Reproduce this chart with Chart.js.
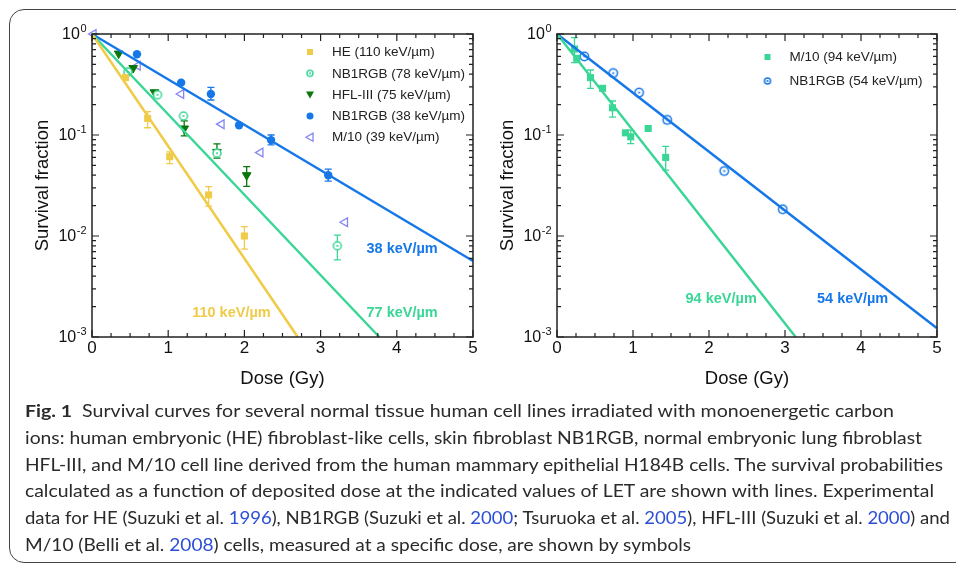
<!DOCTYPE html>
<html>
<head>
<meta charset="utf-8">
<script src="https://cdn.jsdelivr.net/npm/chart.js@4.4.1/dist/chart.umd.min.js"></script>
<style>
html, body { margin: 0; padding: 0; background: #fff; }
body { width: 956px; height: 565px; position: relative; overflow: hidden; }
#frame { position: absolute; left: 9px; top: 8.5px; width: 990px; height: 552px; border: 1.5px solid #444; border-radius: 15px; }
canvas { position: absolute; top: 0; }
#c1 { left: 0; }
#c2 { left: 480px; }
#caption { position: absolute; left: 25px; top: 398px; font-family: Lato, "Open Sans", sans-serif; font-size: 17px; line-height: 26.8px; color: #2a2a2a; }
.ln { white-space: nowrap; width: max-content; transform-origin: 0 0; }
.ref { color: #2c4fd6; }
</style>
</head>
<body>
<div id="frame"></div>
<canvas id="c1" width="480" height="400"></canvas>
<canvas id="c2" width="476" height="400"></canvas>
<div id="caption">
  <div class="ln" data-w="869"><b>Fig. 1</b>&nbsp; Survival curves for several normal tissue human cell lines irradiated with monoenergetic carbon</div>
  <div class="ln" data-w="897">ions: human embryonic (HE) fibroblast-like cells, skin fibroblast NB1RGB, normal embryonic lung fibroblast</div>
  <div class="ln" data-w="918">HFL-III, and M/10 cell line derived from the human mammary epithelial H184B cells. The survival probabilities</div>
  <div class="ln" data-w="909">calculated as a function of deposited dose at the indicated values of LET are shown with lines. Experimental</div>
  <div class="ln" data-w="925">data for HE (Suzuki et al. <span class="ref">1996</span>), NB1RGB (Suzuki et al. <span class="ref">2000</span>; Tsuruoka et al. <span class="ref">2005</span>), HFL-III (Suzuki et al. <span class="ref">2000</span>) and</div>
  <div class="ln" data-w="666">M/10 (Belli et al. <span class="ref">2008</span>) cells, measured at a specific dose, are shown by symbols</div>
</div>
<script>
// Survival curves for normal tissue cell lines - two log panels

// ---- data: left panel ----
const heDose = [0.44, 0.73, 1.02, 1.53, 2.0];
const heSurv = [0.37, 0.146, 0.061, 0.0255, 0.010];
const heLo   = [null, 0.118, 0.052, 0.0198, 0.0074];
const heHi   = [null, 0.170, 0.068, 0.0308, 0.0124];

const nb78Dose = [0.47, 0.86, 1.20, 1.64, 3.22];
const nb78Surv = [0.42, 0.25, 0.154, 0.066, 0.0080];
const nb78Lo   = [null, null, null, null, 0.0058];
const nb78Hi   = [null, null, null, null, 0.0102];

const hflDose = [0.35, 0.54, 0.82, 1.21, 1.64, 2.03];
const hflSurv = [0.64, 0.46, 0.265, 0.116, 0.068, 0.040];
const hflLo   = [null, null, null, 0.098, 0.059, 0.031];
const hflHi   = [null, null, null, 0.138, 0.0815, 0.0486];

const nb38Dose = [0.59, 1.17, 1.56, 1.93, 2.35, 3.10];
const nb38Surv = [0.63, 0.33, 0.255, 0.125, 0.089, 0.040];
const nb38Lo   = [null, null, 0.222, null, 0.080, 0.035];
const nb38Hi   = [null, null, 0.296, null, 0.100, 0.046];

const m10Dose = [0.02, 0.60, 1.17, 1.70, 2.21, 3.32];
const m10Surv = [1.0, 0.485, 0.255, 0.128, 0.067, 0.0137];

// fitted lines (dose, survival end points)
const fit38  = [[0, 1], [5, 0.00565]];
const fit77  = [[0, 1], [3.77, 0.001]];
const fit110 = [[0, 1], [2.70, 0.001]];

// ---- data: right panel ----
const m94Dose = [0.23, 0.26, 0.44, 0.60, 0.73, 0.90, 0.97, 1.20, 1.43];
const m94Surv = [0.71, 0.575, 0.37, 0.29, 0.186, 0.105, 0.096, 0.116, 0.060];
const m94Lo   = [0.52, null, 0.29, null, 0.15, null, 0.082, null, 0.045];
const m94Hi   = [0.92, null, 0.44, null, 0.217, null, 0.112, null, 0.077];

const nb54Dose = [0.36, 0.74, 1.08, 1.45, 2.20, 2.97];
const nb54Surv = [0.60, 0.41, 0.263, 0.141, 0.044, 0.0184];
const nb54Lo   = [0.56, 0.385, 0.245, 0.131, 0.041, 0.0172];
const nb54Hi   = [0.64, 0.435, 0.28, 0.151, 0.047, 0.0196];

const fit54 = [[0, 1], [5, 0.00122]];
const fit94 = [[0, 1], [3.14, 0.001]];

// ---- axes ----
const xTicks = [0, 1, 2, 3, 4, 5];
const yTicks = [1, 0.1, 0.01, 0.001];
const yTickExp = ['0', '-1', '-2', '-3'];

// colours
const YELLOW = '#f0cb48';
const CYAN = '#3ad696';
const GREEN = '#0a760a';
const BLUE = '#1677e8';
const VIOLET = '#8585f2';

const FONT = '"Liberation Sans", Arial, sans-serif';

function pts(xs, ys) {
    return xs.map((x, i) => ({ x: x, y: ys[i] }));
}

// open circle with a dot in the middle
function dotCircle(color, r) {
    const c = document.createElement('canvas');
    const s = Math.ceil(r * 2 + 4);
    c.width = s; c.height = s;
    const g = c.getContext('2d');
    g.strokeStyle = color; g.fillStyle = '#fff'; g.lineWidth = 1.5;
    g.beginPath(); g.arc(s / 2, s / 2, r, 0, Math.PI * 2); g.fill(); g.stroke();
    g.fillStyle = color;
    g.beginPath(); g.arc(s / 2, s / 2, 1.1, 0, Math.PI * 2); g.fill();
    return c;
}

function lineSet(seg, color) {
    return {
        data: seg.map(p => ({ x: p[0], y: p[1] })),
        showLine: true, borderColor: color, borderWidth: 2.5,
        pointRadius: 0, fill: false, clip: false
    };
}

function pointSet(xs, ys, style) {
    return Object.assign({ data: pts(xs, ys), showLine: false, clip: false, borderWidth: 1.5 }, style);
}

// legend marker for the custom legend
function drawMarker(ctx, m, x, y) {
    ctx.save();
    ctx.fillStyle = m.color; ctx.strokeStyle = m.color; ctx.lineWidth = 1.3;
    if (m.type === 'square') {
        ctx.fillRect(x - 3, y - 3, 6, 6);
    } else if (m.type === 'circle') {
        ctx.beginPath(); ctx.arc(x, y, 3.5, 0, Math.PI * 2); ctx.fill();
    } else if (m.type === 'dot') {
        ctx.drawImage(m.img, x - m.img.width / 2, y - m.img.height / 2);
    } else if (m.type === 'down') {
        ctx.beginPath(); ctx.moveTo(x - 4, y - 3); ctx.lineTo(x + 4, y - 3); ctx.lineTo(x, y + 4); ctx.closePath(); ctx.fill();
    } else if (m.type === 'left') {
        ctx.beginPath(); ctx.moveTo(x - 4, y); ctx.lineTo(x + 3, y - 4); ctx.lineTo(x + 3, y + 4); ctx.closePath(); ctx.stroke();
    }
    ctx.restore();
}

function makePanelPlugin(cfg) {
    return {
        id: 'panel_' + cfg.name,
        beforeDatasetsDraw(chart) {
            const { ctx, scales: { x, y } } = chart;
            ctx.save();
            ctx.lineWidth = 1.3;
            cfg.errors.forEach(e => {
                ctx.strokeStyle = e.color;
                e.xs.forEach((d, i) => {
                    if (e.lo[i] == null) return;
                    const px = x.getPixelForValue(d);
                    const p1 = y.getPixelForValue(e.lo[i]);
                    const p2 = y.getPixelForValue(e.hi[i]);
                    ctx.beginPath();
                    ctx.moveTo(px, p1); ctx.lineTo(px, p2);
                    ctx.moveTo(px - 3.5, p1); ctx.lineTo(px + 3.5, p1);
                    ctx.moveTo(px - 3.5, p2); ctx.lineTo(px + 3.5, p2);
                    ctx.stroke();
                });
            });
            ctx.restore();
        },
        afterDatasetsDraw(chart) {
            const { ctx, chartArea: a, scales: { x, y } } = chart;
            ctx.save();
            // frame
            ctx.strokeStyle = '#222'; ctx.lineWidth = 1.5;
            ctx.strokeRect(a.left, a.top, a.right - a.left, a.bottom - a.top);
            ctx.lineWidth = 1.2;
            ctx.beginPath();
            for (let k = 0; k <= 20; k++) {
                const v = k * 0.25;
                const px = x.getPixelForValue(v);
                const len = k % 4 === 0 ? 7 : 4;
                ctx.moveTo(px, a.bottom); ctx.lineTo(px, a.bottom - len);
                ctx.moveTo(px, a.top); ctx.lineTo(px, a.top + len);
            }
            for (let e = -3; e <= 0; e++) {
                for (let m = 1; m <= 9; m++) {
                    const v = m * Math.pow(10, e);
                    if (v > 1.0001) break;
                    const py = y.getPixelForValue(v);
                    const len = m === 1 ? 7 : 4;
                    ctx.moveTo(a.left, py); ctx.lineTo(a.left + len, py);
                    ctx.moveTo(a.right, py); ctx.lineTo(a.right - len, py);
                }
            }
            ctx.stroke();

            // tick labels
            ctx.fillStyle = '#111';
            ctx.font = '17px ' + FONT;
            ctx.textAlign = 'center'; ctx.textBaseline = 'middle';
            xTicks.forEach(v => ctx.fillText(String(v), x.getPixelForValue(v), a.bottom + 11));
            yTicks.forEach((v, i) => {
                const py = y.getPixelForValue(v);
                ctx.font = '11px ' + FONT;
                const ew = ctx.measureText(yTickExp[i]).width;
                ctx.textAlign = 'right';
                ctx.fillText(yTickExp[i], a.left - 5.5, py - 5);
                ctx.font = '16px ' + FONT;
                ctx.fillText('10', a.left - 6 - ew, py + 1);
            });

            // axis titles
            ctx.font = '18.5px ' + FONT;
            ctx.textAlign = 'center';
            ctx.fillText('Dose (Gy)', (a.left + a.right) / 2, a.bottom + 42);
            ctx.save();
            ctx.translate(a.left - 49, (a.top + a.bottom) / 2);
            ctx.rotate(-Math.PI / 2);
            ctx.fillText('Survival fraction', 0, 0);
            ctx.restore();

            // line annotations
            ctx.font = 'bold 14.5px ' + FONT;
            cfg.notes.forEach(n => {
                ctx.fillStyle = n.color;
                ctx.fillText(n.text, x.getPixelForValue(n.x), y.getPixelForValue(n.y));
            });

            // legend
            ctx.font = '13.5px ' + FONT;
            ctx.textAlign = 'left';
            cfg.legend.forEach((item, i) => {
                const ly = a.top + cfg.legendTop + i * cfg.legendStep;
                drawMarker(ctx, item, a.left + cfg.legendX, ly);
                ctx.fillStyle = '#222';
                ctx.fillText(item.label, a.left + cfg.legendX + 22, ly + 0.5);
            });
            ctx.restore();
        }
    };
}

function makeChart(id, datasets, padding, cfg) {
    return new Chart(document.getElementById(id), {
        type: 'scatter',
        data: { datasets: datasets },
        options: {
            responsive: false,
            animation: false,
            devicePixelRatio: 1,
            layout: { padding: padding },
            plugins: { legend: { display: false }, tooltip: { enabled: false } },
            scales: {
                x: { type: 'linear', min: 0, max: 5, display: false },
                y: { type: 'logarithmic', min: 0.001, max: 1, display: false }
            }
        },
        plugins: [makePanelPlugin(cfg)]
    });
}

const dot78 = dotCircle(CYAN, 4);
const dot54 = dotCircle(BLUE, 4.2);
const dot78s = dotCircle(CYAN, 3);
const dot54s = dotCircle(BLUE, 3);

// ---- left panel ----
makeChart('c1', [
    lineSet(fit110, YELLOW),
    lineSet(fit77, CYAN),
    lineSet(fit38, BLUE),
    pointSet(heDose, heSurv, { pointStyle: 'rect', pointRadius: 5, backgroundColor: YELLOW, borderColor: YELLOW, borderWidth: 0 }),
    pointSet(nb78Dose, nb78Surv, { pointStyle: dot78, pointRadius: 5 }),
    pointSet(hflDose, hflSurv, { pointStyle: 'triangle', rotation: 180, pointRadius: 5, backgroundColor: GREEN, borderColor: GREEN, borderWidth: 1 }),
    pointSet(nb38Dose, nb38Surv, { pointStyle: 'circle', pointRadius: 4.2, backgroundColor: BLUE, borderColor: BLUE, borderWidth: 0 }),
    pointSet(m10Dose, m10Surv, { pointStyle: 'triangle', rotation: 270, pointRadius: 5, backgroundColor: 'rgba(255,255,255,0)', borderColor: VIOLET, borderWidth: 1.3 })
], { left: 92, right: 7, top: 34, bottom: 63 }, {
    name: 'left',
    errors: [
        { color: YELLOW, xs: heDose, lo: heLo, hi: heHi },
        { color: CYAN, xs: nb78Dose, lo: nb78Lo, hi: nb78Hi },
        { color: GREEN, xs: hflDose, lo: hflLo, hi: hflHi },
        { color: BLUE, xs: nb38Dose, lo: nb38Lo, hi: nb38Hi }
    ],
    notes: [
        { text: '38 keV/\u00b5m', x: 4.07, y: 0.00743, color: BLUE },
        { text: '110 keV/\u00b5m', x: 1.83, y: 0.00174, color: YELLOW },
        { text: '77 keV/\u00b5m', x: 4.07, y: 0.00174, color: CYAN }
    ],
    legend: [
        { label: 'HE (110 keV/\u00b5m)', type: 'square', color: YELLOW },
        { label: 'NB1RGB (78 keV/\u00b5m)', type: 'dot', color: CYAN, img: dot78s },
        { label: 'HFL-III (75 keV/\u00b5m)', type: 'down', color: GREEN },
        { label: 'NB1RGB (38 keV/\u00b5m)', type: 'circle', color: BLUE },
        { label: 'M/10 (39 keV/\u00b5m)', type: 'left', color: VIOLET }
    ],
    legendX: 218, legendTop: 18, legendStep: 21.3
});

// ---- right panel ----
makeChart('c2', [
    lineSet(fit94, CYAN),
    lineSet(fit54, BLUE),
    pointSet(m94Dose, m94Surv, { pointStyle: 'rect', pointRadius: 5, backgroundColor: CYAN, borderColor: CYAN, borderWidth: 0 }),
    pointSet(nb54Dose, nb54Surv, { pointStyle: dot54, pointRadius: 5 })
], { left: 77, right: 19, top: 34, bottom: 63 }, {
    name: 'right',
    errors: [
        { color: CYAN, xs: m94Dose, lo: m94Lo, hi: m94Hi },
        { color: BLUE, xs: nb54Dose, lo: nb54Lo, hi: nb54Hi }
    ],
    notes: [
        { text: '94 keV/\u00b5m', x: 2.16, y: 0.00236, color: CYAN },
        { text: '54 keV/\u00b5m', x: 3.89, y: 0.00236, color: BLUE }
    ],
    legend: [
        { label: 'M/10 (94 keV/\u00b5m)', type: 'square', color: CYAN },
        { label: 'NB1RGB (54 keV/\u00b5m)', type: 'dot', color: BLUE, img: dot54s }
    ],
    legendX: 210.5, legendTop: 23, legendStep: 24
});

// squeeze each caption line to the width it has in the figure
function fitCaption() {
    document.querySelectorAll('#caption .ln').forEach(el => {
        el.style.transform = 'none';
        const w = el.getBoundingClientRect().width;
        const target = parseFloat(el.dataset.w);
        if (w > 0) el.style.transform = 'scaleX(' + (target / w).toFixed(4) + ')';
    });
}
fitCaption();
if (document.fonts && document.fonts.ready) document.fonts.ready.then(fitCaption);
</script>
</body>
</html>
